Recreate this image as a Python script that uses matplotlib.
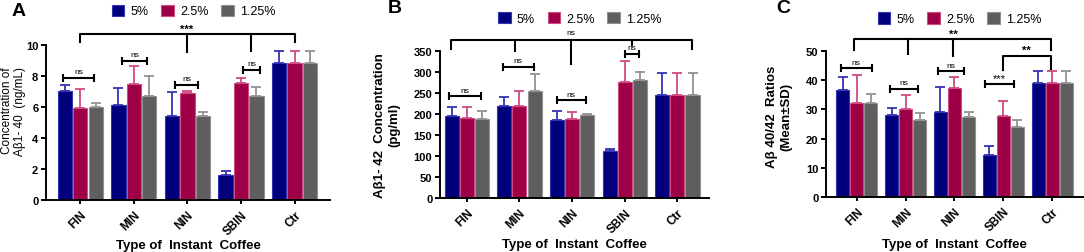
import numpy as np
import matplotlib.pyplot as plt

plt.rcParams['font.family'] = ['Liberation Sans', 'DejaVu Sans']
plt.rcParams['font.weight'] = 'bold'
plt.rcParams['axes.labelweight'] = 'bold'

groups = ['FIN', 'MIN', 'NIN', 'SBIN', 'Ctr']
levels = ['5%', '2.5%', '1.25%']

# panel A: Abeta 1-40 (ng/mL)
a40_5 = [7.05, 6.13, 5.40, 1.59, 8.82]
a40_5_sd = [0.39, 1.10, 1.55, 0.26, 0.81]
a40_25 = [5.91, 7.46, 6.88, 7.53, 8.82]
a40_25_sd = [1.25, 1.21, 0.15, 0.36, 0.81]
a40_125 = [5.98, 6.73, 5.40, 6.69, 8.82]
a40_125_sd = [0.26, 1.27, 0.26, 0.58, 0.81]

# panel B: Abeta 1-42 (pg/ml)
a42_5 = [195, 218, 186, 111, 246]
a42_5_sd = [22, 22, 22, 6, 52]
a42_25 = [190, 218, 187, 277, 246]
a42_25_sd = [26, 36, 18, 50, 52]
a42_125 = [187, 255, 197, 282, 246]
a42_125_sd = [21, 41, 2.5, 18, 52]

# panel C: 40/42 ratio
r_5 = [36.5, 28.0, 29.2, 14.5, 39.2]
r_5_sd = [4.7, 2.5, 8.3, 3.0, 3.8]
r_25 = [32.3, 30.3, 37.3, 27.9, 39.2]
r_25_sd = [9.5, 4.5, 3.7, 5.1, 3.8]
r_125 = [32.3, 26.3, 27.5, 23.8, 39.2]
r_125_sd = [3.1, 2.5, 1.6, 2.7, 3.8]

bar_cols = ['#00007c', '#9e0047', '#5e5e5e']
err_cols = ['#3434b4', '#d04a84', '#929292']


def panel(ax, series, sds, ylim, yticks, xlim, xlab_y):
    x = np.arange(len(groups))
    w = 0.267
    for i, (m, s) in enumerate(zip(series, sds)):
        xs = x + (i - 1) * 0.288
        ax.bar(xs, m, w, color=bar_cols[i], edgecolor=err_cols[i], linewidth=0.8,
               label=levels[i], zorder=2)
        ax.errorbar(xs, m, yerr=[np.zeros(len(m)), s], fmt='none', ecolor=err_cols[i],
                    elinewidth=1.3, capsize=3.5, capthick=1.3, zorder=1)
    ax.set_ylim(*ylim)
    ax.set_yticks(yticks)
    ax.set_xlim(*xlim)
    ax.set_xticks(x)
    ax.set_xticklabels(groups, rotation=45, ha='right', rotation_mode='anchor', fontsize=8.5)
    ax.tick_params(axis='y', labelsize=8, width=1.4, length=3.5, pad=2)
    ax.tick_params(axis='x', width=1.4, length=3, pad=3)
    for sp in ['top', 'right']:
        ax.spines[sp].set_visible(False)
    for sp in ['left', 'bottom']:
        ax.spines[sp].set_linewidth(1.4)
    ax.set_xlabel('Type of  Instant  Coffee', fontsize=9.5, va='top')
    ax.xaxis.set_label_coords(0.5, xlab_y)
    ax.legend(loc='center', bbox_to_anchor=(0.52, 1.22), ncol=3, frameon=False,
              handlelength=1.0, handleheight=1.0, columnspacing=1.0, handletextpad=0.5,
              prop={'weight': 'normal', 'size': 9})


def ns(ax, x1, x2, y, txt='ns', dy=0.0, fs=6):
    ax.plot([x1, x2], [y, y], color='k', lw=1.5, marker='|', ms=6, mew=1.5,
            clip_on=False, zorder=5)
    ax.text((x1 + x2) / 2, y + dy, txt, ha='center', va='bottom', fontsize=fs,
            fontweight='normal', clip_on=False)


def big(ax, x1, x2, y, d1, d2, drops):
    ax.plot([x1, x1, x2, x2], [d1, y, y, d2], color='k', lw=1.5, clip_on=False, zorder=5)
    for xd, yd in drops:
        ax.plot([xd, xd], [y, yd], color='k', lw=1.5, clip_on=False, zorder=5)


fig = plt.figure(figsize=(10.84, 2.53), dpi=100)

axA = fig.add_axes([0.0424, 0.2055, 0.2620, 0.6125])
panel(axA, [a40_5, a40_25, a40_125], [a40_5_sd, a40_25_sd, a40_125_sd],
      (0, 10), [0, 2, 4, 6, 8, 10], (-0.64, 4.66), -0.25)
axA.set_ylabel('Concentration of\nA\u03b21- 40  (ng/mL)', fontsize=8.5, fontweight='normal',
               linespacing=1.1)
axA.yaxis.set_label_coords(-0.07, 0.58)
big(axA, 0.0, 4.0, 10.71, 10.2, 10.2, [(1.99, 9.53), (3.19, 9.63)])
axA.text(1.98, 11.05, '***', ha='center', va='center', fontsize=8, clip_on=False)
ns(axA, -0.32, 0.26, 7.85, dy=0.2)
ns(axA, 0.78, 1.25, 8.97, dy=0.2)
ns(axA, 1.76, 2.20, 7.42, dy=0.2)
ns(axA, 3.03, 3.36, 8.39, dy=0.2)
fig.text(0.011, 0.955, 'A', fontsize=14, fontweight='bold', va='center')

axB = fig.add_axes([0.4059, 0.2134, 0.2481, 0.5811])
panel(axB, [a42_5, a42_25, a42_125], [a42_5_sd, a42_25_sd, a42_125_sd],
      (0, 350), list(range(0, 351, 50)), (-0.51, 4.6), -0.275)
axB.set_ylabel('A\u03b21- 42  Concentration\n(pg/ml)', fontsize=9.5)
axB.yaxis.set_label_coords(-0.149, 0.5)
big(axB, -0.31, 4.28, 377, 354, 354, [(1.97, 318), (0.91, 350), (3.13, 364)])
axB.text(1.97, 393, 'ns', ha='center', va='center', fontsize=6, fontweight='normal',
         clip_on=False)
ns(axB, -0.34, 0.26, 242, dy=5)
ns(axB, 0.68, 1.27, 313, dy=5)
ns(axB, 1.71, 2.26, 234, dy=5)
ns(axB, 3.00, 3.27, 344, dy=5)
fig.text(0.358, 0.965, 'B', fontsize=14, fontweight='bold', va='center')

axC = fig.add_axes([0.7620, 0.2174, 0.2370, 0.5771])
panel(axC, [r_5, r_25, r_125], [r_5_sd, r_25_sd, r_125_sd],
      (0, 50), [0, 10, 20, 30, 40, 50], (-0.63, 4.63), -0.28)
axC.set_ylabel('A\u03b2 40/42  Ratios\n(Mean\u00b1SD)', fontsize=9.5)
axC.yaxis.set_label_coords(-0.132, 0.555)
big(axC, -0.05, 3.98, 54.0, 50.2, 50.2, [(1.97, 48.3), (1.05, 49.1)])
axC.text(1.97, 55.9, '**', ha='center', va='center', fontsize=8, clip_on=False)
big(axC, 2.99, 3.98, 48.3, 43.4, 43.8, [])
axC.text(3.48, 50.4, '**', ha='center', va='center', fontsize=8)
ns(axC, -0.33, 0.31, 44.2, dy=0.8)
ns(axC, 0.69, 1.25, 37.1, dy=0.8)
ns(axC, 1.67, 2.20, 43.2, dy=0.8)
ns(axC, 2.63, 3.22, 38.6, txt='***', dy=0.3, fs=8)
fig.text(0.716, 0.965, 'C', fontsize=14, fontweight='bold', va='center')

fig.savefig('out.png', dpi=100)
